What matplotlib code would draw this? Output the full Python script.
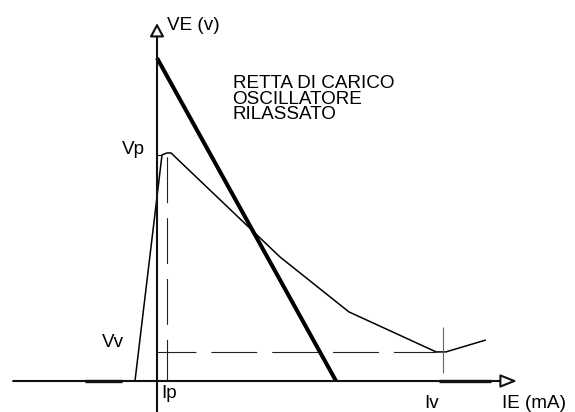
import matplotlib
matplotlib.use("Agg")
import matplotlib.pyplot as plt

plt.rcParams['font.family'] = ['Liberation Sans', 'DejaVu Sans']
plt.rcParams['lines.scale_dashes'] = False
plt.rcParams['lines.solid_capstyle'] = 'butt'

# UJT emitter characteristic VE(IE) and the load line of the relaxation oscillator
curve_ie = [-0.77, 0.175, 0.35, 0.49, 4.30, 6.71, 9.76, 10.10, 11.50]   # mA
curve_ve = [0.00, 7.00, 7.06, 7.06, 3.84, 2.14, 0.90, 0.90, 1.27]       # V

load_ie = [0.0, 6.26]     # mA
load_ve = [10.0, 0.0]     # V

ip, vp = 0.35, 7.06       # peak point
iv, vv = 10.0, 0.90       # valley point
valley_dash_end = 9.76

# heavier stretches drawn on the current axis
axis_marks = [(-2.52, -1.22), (9.86, 11.68)]

px_x, px_y = 28.6, 32.3   # pixel per mA / pixel per V
fig = plt.figure(figsize=(5.75, 4.12), dpi=100)
ax = fig.add_axes([0, 0, 1, 1])
ax.set_xlim(-157 / px_x, (575 - 157) / px_x)
ax.set_ylim(-(412 - 381) / px_y, 381 / px_y)
ax.axis('off')

# axes with hollow arrow heads
ax.annotate('', xy=(12.59, 0), xytext=(-5.03, 0),
            arrowprops=dict(arrowstyle='-|>,head_length=1.0,head_width=0.4',
                            mutation_scale=10, lw=1.5, fc='white', ec='#111111',
                            shrinkA=0, shrinkB=0))
ax.annotate('', xy=(0, 11.08), xytext=(0, -1.0),
            arrowprops=dict(arrowstyle='-|>,head_length=0.8,head_width=0.43',
                            mutation_scale=10, lw=1.5, fc='white', ec='#111111',
                            shrinkA=0, shrinkB=0))
for a, b in axis_marks:
    ax.plot([a, b], [0, 0], color='#111111', lw=2.4)

# characteristic and load line
ax.plot(curve_ie, curve_ve, color='black', lw=1.1)
ax.plot(load_ie, load_ve, color='black', lw=2.9)

# peak and valley references
ax.plot([0, curve_ie[1]], [curve_ve[1], curve_ve[1]], color='black', lw=0.8)
ax.plot([ip, ip], [0, vp], color='#222222', lw=0.8, linestyle=(3, (33, 10.8)))
ax.plot([0, valley_dash_end], [vv, vv], color='#222222', lw=0.8, linestyle=(5, (33, 10.8)))
ax.plot([iv, iv], [0.25, 1.67], color='#666666', lw=0.8)

fs = 13.6
ax.text(0.36, 10.88, 'VE (v)', fontsize=fs, va='baseline', ha='left')
ax.text(12.08, -0.84, 'IE (mA)', fontsize=fs, va='baseline', ha='left')
ax.text(-1.21, 7.03, 'Vp', fontsize=fs, va='baseline', ha='left')
ax.text(-1.91, 1.05, 'Vv', fontsize=fs, va='baseline', ha='left')
ax.text(0.14, -0.53, 'Ip', fontsize=fs, va='baseline', ha='left')
ax.text(9.35, -0.85, 'Iv', fontsize=fs, va='baseline', ha='left')
for txt, yv in zip(['RETTA DI CARICO', 'OSCILLATORE', 'RILASSATO'], [9.08, 8.58, 8.10]):
    ax.text(2.64, yv, txt, fontsize=fs, va='baseline', ha='left')

fig.savefig('out.png', dpi=100, facecolor='white')
